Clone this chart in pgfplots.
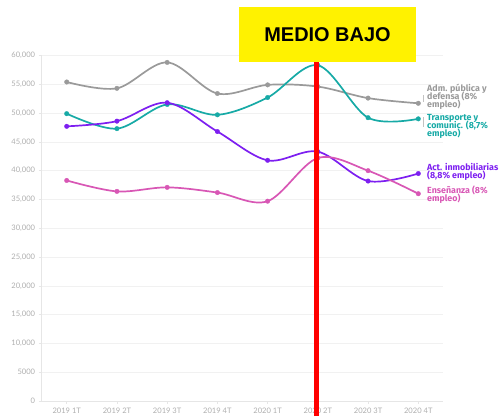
\documentclass[border=0pt]{standalone}
\usepackage{fontspec}
\setmainfont{Lato}
\newfontfamily\titlefont{Liberation Sans}
\newfontfamily\labfont{Fira Sans}
\usepackage{pgfplots}
\pgfplotsset{compat=1.18}
\definecolor{cgray}{HTML}{9A9A9A}
\definecolor{cteal}{HTML}{17AAA6}
\definecolor{cpurple}{HTML}{7D1FF0}
\definecolor{cpink}{HTML}{D857B5}
\definecolor{ctick}{HTML}{AEAEAE}
\definecolor{cgrid}{HTML}{F1F1F1}
\definecolor{caxis}{HTML}{E6E6E6}
\begin{document}
\begin{tikzpicture}[x=1bp,y=1bp]
\path[use as bounding box] (0,0) rectangle (501,416);
\begin{axis}[
  at={(41.6bp,15bp)}, anchor=south west,
  scale only axis, width=401.8bp, height=345.5bp,
  xmin=-0.5, xmax=7.5, ymin=0, ymax=60000,
  axis x line*=bottom, axis y line*=left,
  axis line style={draw=caxis, line width=0.6bp},
  xtick={0,...,7},
  xticklabels={2019 1T,2019 2T,2019 3T,2019 4T,2020 1T,2020 2T,2020 3T,2020 4T},
  ytick={0,5000,...,60000},
  scaled y ticks=false,
  yticklabels={0,5000,{10,000},{15,000},{20,000},{25,000},{30,000},{35,000},{40,000},{45,000},{50,000},{55,000},{60,000}},
  ymajorgrids, grid style={draw=cgrid, line width=0.6bp},
  tick align=outside, major tick length=3bp,
  tick style={draw=caxis, line width=0.6bp},
  ticklabel style={font=\fontsize{7.6}{8}\selectfont, text=ctick},
  clip=false,
  every axis plot/.append style={smooth, tension=0.55, line width=1.7bp, mark=*, mark size=2.3bp},
]
\addplot[cgray, mark options={fill=cgray, line width=0.3bp}] coordinates {(0,55400) (1,54300) (2,58800) (3,53400) (4,54900) (5,54600) (6,52600) (7,51700)};
\addplot[cteal, mark options={fill=cteal, line width=0.3bp}] coordinates {(0,49900) (1,47300) (2,51500) (3,49700) (4,52700) (5,58300) (6,49200) (7,49000)};
\addplot[cpurple, mark options={fill=cpurple, line width=0.3bp}] coordinates {(0,47700) (1,48600) (2,51800) (3,46800) (4,41800) (5,43300) (6,38200) (7,39500)};
\addplot[cpink, mark options={fill=cpink, line width=0.3bp}] coordinates {(0,38300) (1,36400) (2,37100) (3,36200) (4,34700) (5,42200) (6,40000) (7,36000)};
\end{axis}
% annotation
\draw[red, line width=5bp] (316.7,0) -- (316.7,354);
\fill[yellow] (239,353.7) rectangle (416,408.7);
\node[anchor=base, inner sep=0, font=\titlefont\bfseries\fontsize{20}{22}\selectfont] at (327.5,374.3) {MEDIO BAJO};
% connectors
\draw[cgray!60, line width=0.6bp] (423,321) -- (423,314);
\draw[cgray!60, line width=0.6bp] (423,299) -- (423,289);
% labels
\begin{scope}[every node/.style={anchor=base west, inner sep=0, font=\labfont\bfseries\fontsize{8.9}{8}\selectfont}]
\node[text=cgray] at (427,325) {Adm. pública y};
\node[text=cgray] at (427,317) {defensa (8\%};
\node[text=cgray] at (427,309) {empleo)};
\node[text=cteal] at (427,295.3) {Transporte y};
\node[text=cteal] at (427,287.3) {comunic. (8,7\%};
\node[text=cteal] at (427,279.3) {empleo)};
\node[text=cpurple] at (427,246) {Act. inmobiliarias};
\node[text=cpurple] at (427,238) {(8,8\% empleo)};
\node[text=cpink] at (427,222.3) {Enseñanza (8\%};
\node[text=cpink] at (427,214.3) {empleo)};
\end{scope}
\end{tikzpicture}
\end{document}
